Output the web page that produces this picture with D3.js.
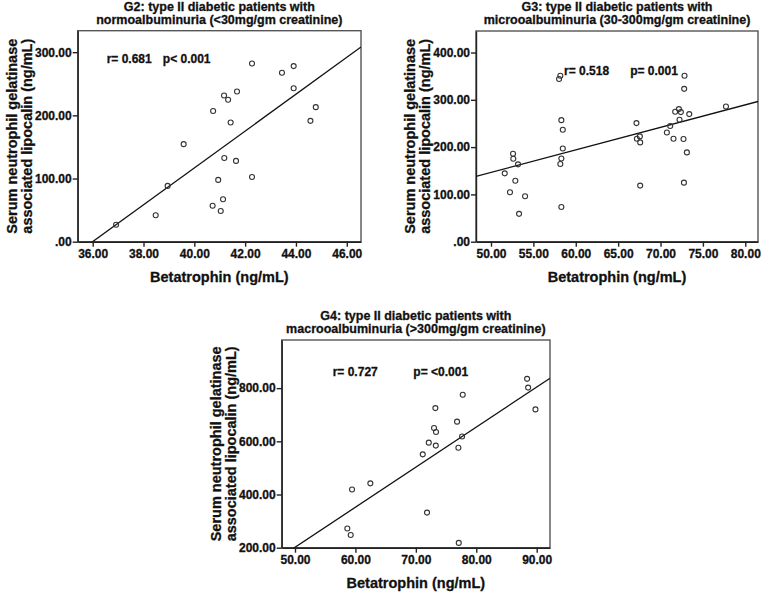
<!DOCTYPE html>
<html>
<head>
<meta charset="utf-8">
<script src="https://cdn.jsdelivr.net/npm/d3@7"></script>
<style>
    body { margin: 0; background: #fff; }
    svg text { font-family: 'Liberation Sans', Arial, sans-serif; font-weight: bold; fill: #111; stroke: #111; stroke-width: 0.3px; }
</style>
</head>
<body>
<div id="plot"></div>
<script>
// G2 - normoalbuminuria
const g2Betatrophin = [36.92, 38.48, 38.95, 39.58, 40.74, 40.72, 40.94, 41.04, 41.13, 41.18, 41.17,
    41.33, 41.43, 41.64, 41.68, 42.27, 42.27, 43.45, 43.91, 43.91, 44.57, 44.78];
const g2Ngal = [26.9, 41.8, 88.3, 154.4, 207, 57, 97.8, 48.7, 67.2, 132.6, 231.4,
    224.6, 188.6, 127.9, 237.7, 282, 102.5, 267.4, 278, 243, 191.3, 213];
const g2Fit = [-1050, 29.17]; // intercept, slope
const g2XTicks = [36, 38, 40, 42, 44, 46];
const g2YTicks = [0, 100, 200, 300];
const g2Stats = ['r= 0.681', 'p< 0.001'];
const g2Title = ['G2: type II diabetic patients with', 'normoalbuminuria (<30mg/gm creatinine)'];

// G3 - microalbuminuria
const g3Betatrophin = [51.62, 52.24, 52.6, 52.63, 52.87, 53.19, 53.31, 54.02, 58.03, 58.18, 58.18, 58.3,
    58.3, 58.3, 58.47, 58.47, 67.16, 67.21, 67.56, 67.6, 67.6, 70.75, 71.14, 71.53, 71.73, 72.17,
    72.24, 72.4, 72.71, 72.76, 72.79, 72.83, 73.11, 73.39, 77.72];
const g3Ngal = [144.5, 104.4, 186, 175.5, 129, 163.5, 58.9, 96, 344, 351, 164.3, 257,
    176, 73.5, 236.7, 197, 250.8, 217.7, 222.6, 210, 118.6, 231, 244.5, 217.7, 274.7, 280.4,
    257.8, 274, 217, 124.9, 323.2, 351, 188.8, 269.8, 285.9];
const g3Fit = [-91.1, 4.755];
const g3XTicks = [50, 55, 60, 65, 70, 75, 80];
const g3YTicks = [0, 100, 200, 300, 400];
const g3Stats = ['r= 0.518', 'p= 0.001'];
const g3Title = ['G3: type II diabetic patients with', 'microoalbuminuria (30-300mg/gm creatinine)'];

// G4 - macroalbuminuria
const g4Betatrophin = [58.66, 59.22, 59.44, 62.47, 71.14, 71.85, 72.14, 73.01, 73.23, 73.3,
    73.34, 76.82, 77.04, 77.1, 77.65, 77.76, 88.41, 88.58, 89.79];
const g4Ngal = [272, 248, 419, 442, 551, 332, 595, 650, 725, 584,
    635, 674, 576, 218, 618, 775, 835, 802, 720];
const g4Fit = [-552, 15.07];
const g4XTicks = [50, 60, 70, 80, 90];
const g4YTicks = [200, 400, 600, 800];
const g4Stats = ['r= 0.727', 'p= <0.001'];
const g4Title = ['G4: type II diabetic patients with', 'macrooalbuminuria (>300mg/gm creatinine)'];

const xTitle = 'Betatrophin (ng/mL)';
const yTitle = ['Serum neutrophil gelatinase', 'associated lipocalin (ng/mL)'];

let svg = d3.select('#plot')
    .append('svg')
    .attr('width', 762)
    .attr('height', 593);

function fmt(v) {
    return v === 0 ? '.00' : d3.format('.2f')(v);
}

function drawPanel(p, id) {
    let xs = d3.scaleLinear().domain(p.xDomain).range([p.left, p.right]);
    let ys = d3.scaleLinear().domain(p.yDomain).range([p.bottom, p.top]);
    let w = p.right - p.left;
    let h = p.bottom - p.top;
    let cx = (p.left + p.right) / 2;

    // box
    svg.append('rect')
        .attr('x', p.left).attr('y', p.top)
        .attr('width', w).attr('height', h)
        .style('fill', 'none')
        .style('stroke', '#555')
        .style('stroke-width', '1.4px');

    // title
    svg.append('g').selectAll('text')
        .data(p.title)
        .enter()
        .append('text')
        .attr('x', cx)
        .attr('y', (d, i) => p.top - 7 - (1 - i) * 13)
        .style('text-anchor', 'middle')
        .style('font-size', '12.5px')
        .text(d => d);

    let xAxis = d3.axisBottom(xs).tickValues(p.xTicks).tickFormat(fmt).tickSize(5).tickSizeOuter(0);
    let yAxis = d3.axisLeft(ys).tickValues(p.yTicks).tickFormat(fmt).tickSize(5).tickSizeOuter(0);

    let gx = svg.append('g')
        .attr('transform', 'translate(0, ' + p.bottom + ')')
        .call(xAxis);
    let gy = svg.append('g')
        .attr('transform', 'translate(' + p.left + ', 0)')
        .call(yAxis);

    [gx, gy].forEach(g => {
        g.selectAll('path, line').style('stroke', '#222').style('stroke-width', '1.4px');
        g.selectAll('text').style('font-size', '12px').style('font-family', null).attr('fill', null);
    });
    gx.selectAll('text').attr('y', 8);
    gy.selectAll('text').attr('x', -6);

    svg.append('text')
        .attr('x', cx)
        .attr('y', p.bottom + 40)
        .style('text-anchor', 'middle')
        .style('font-size', '14.5px')
        .text(xTitle);

    svg.append('g')
        .attr('transform', 'translate(' + p.left + ', ' + (p.top + p.bottom) / 2 + ') rotate(-90)')
        .selectAll('text')
        .data(yTitle)
        .enter()
        .append('text')
        .attr('x', 0)
        .attr('y', (d, i) => i === 0 ? -61 : -46)
        .style('text-anchor', 'middle')
        .style('font-size', '14.5px')
        .text(d => d);

    // clip for the fit line
    svg.append('clipPath')
        .attr('id', 'clip' + id)
        .append('rect')
        .attr('x', p.left).attr('y', p.top)
        .attr('width', w).attr('height', h);

    let line = d3.line()
        .x(d => xs(d))
        .y(d => ys(p.fit[0] + p.fit[1] * d));

    svg.append('path')
        .datum(p.xDomain)
        .attr('d', line)
        .attr('clip-path', 'url(#clip' + id + ')')
        .style('fill', 'none')
        .style('stroke', '#111')
        .style('stroke-width', '1.3px');

    svg.append('g').selectAll('circle')
        .data(p.xs.map((v, i) => [v, p.ys[i]]))
        .enter()
        .append('circle')
        .attr('cx', d => xs(d[0]))
        .attr('cy', d => ys(d[1]))
        .attr('r', 2.5)
        .style('fill', 'none')
        .style('stroke', '#333')
        .style('stroke-width', '1.1px');

    svg.append('g').selectAll('text')
        .data(p.stats)
        .enter()
        .append('text')
        .attr('x', (d, i) => xs(p.statX[i]))
        .attr('y', ys(p.statY))
        .style('font-size', '12px')
        .text(d => d);
}

drawPanel({
    left: 77.7, right: 361, top: 30.7, bottom: 241.7,
    xDomain: [35.41, 46.56], yDomain: [0, 334],
    xTicks: g2XTicks, yTicks: g2YTicks,
    xs: g2Betatrophin, ys: g2Ngal, fit: g2Fit,
    title: g2Title, stats: g2Stats, statX: [36.55, 38.76], statY: 282.7
}, 2);

drawPanel({
    left: 476, right: 758, top: 31, bottom: 241.7,
    xDomain: [48.23, 81.5], yDomain: [0, 445.5],
    xTicks: g3XTicks, yTicks: g3YTicks,
    xs: g3Betatrophin, ys: g3Ngal, fit: g3Fit,
    title: g3Title, stats: g3Stats, statX: [58.62, 66.42], statY: 352.7
}, 3);

drawPanel({
    left: 281.7, right: 550, top: 340, bottom: 547.7,
    xDomain: [47.8, 92.2], yDomain: [200, 981],
    xTicks: g4XTicks, yTicks: g4YTicks,
    xs: g4Betatrophin, ys: g4Ngal, fit: g4Fit,
    title: g4Title, stats: g4Stats, statX: [56.24, 69.59], statY: 846
}, 4);
</script>
</body>
</html>
